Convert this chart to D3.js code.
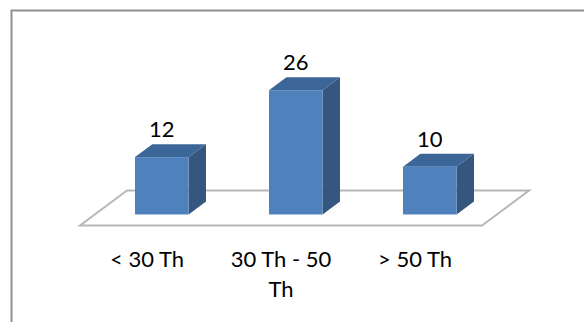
<!DOCTYPE html>
<html>
<head>
<meta charset="utf-8">
<script src="https://cdn.jsdelivr.net/npm/d3@7"></script>
<style>
  html, body { margin: 0; padding: 0; background: #fff; }
  svg { display: block; }
  text { font-family: Lato, "Open Sans", sans-serif; fill: #000; }
</style>
</head>
<body>
<svg id="chart" width="584" height="322"></svg>
<script>
// Chart data
const categories = ["< 30 Th", "30 Th - 50 Th", "> 50 Th"];
const values = [12, 26, 10];
const yMax = 30;

const svg = d3.select("#chart");

// Outer chart frame (runs off the right and bottom edges)
svg.append("rect")
  .attr("x", 11.5).attr("y", 10.5)
  .attr("width", 620).attr("height", 360)
  .attr("fill", "none")
  .attr("stroke", "#8f8f8f")
  .attr("stroke-width", 2);

// Floor: front edge along the category axis, receding by (depthX, depthY)
const floorY = 225.5;
const depthX = 47, depthY = -35;
const barDepth0 = 0.315, barDepth1 = 0.685;

const x = d3.scaleBand().domain(categories).range([80, 482]).padding(0);
const y = d3.scaleLinear().domain([0, yMax]).range([0, 143.4]);

const g = svg.append("g");

// floor parallelogram
const fx0 = x.range()[0], fx1 = x.range()[1];
g.append("path")
  .attr("d", d3.line()([
    [fx0, floorY], [fx1, floorY],
    [fx1 + depthX, floorY + depthY], [fx0 + depthX, floorY + depthY]
  ]) + "Z")
  .attr("fill", "none")
  .attr("stroke", "#b8b8b8")
  .attr("stroke-width", 2);

// bars as 3D boxes
const barW = x.bandwidth() * 0.4;
const offX = depthX * barDepth0, offY = depthY * barDepth0;
const bdx = depthX * (barDepth1 - barDepth0), bdy = depthY * (barDepth1 - barDepth0);
const baseY = floorY + offY;

const bars = g.selectAll(".bar").data(categories.map((c, i) => ({ c, v: values[i] })))
  .enter().append("g").attr("class", "bar");

bars.each(function (d) {
  const sel = d3.select(this);
  const cx = x(d.c) + x.bandwidth() / 2 + offX;
  const left = cx - barW / 2, right = cx + barW / 2;
  const top = baseY - y(d.v);
  // side face
  sel.append("path")
    .attr("d", d3.line()([[right, top], [right + bdx, top + bdy], [right + bdx, baseY + bdy], [right, baseY]]) + "Z")
    .attr("fill", "#34567f");
  // top face
  sel.append("path")
    .attr("d", d3.line()([[left, top], [left + bdx, top + bdy], [right + bdx, top + bdy], [right, top]]) + "Z")
    .attr("fill", "#3d6698");
  // front face
  sel.append("rect")
    .attr("x", left).attr("y", top)
    .attr("width", barW).attr("height", y(d.v))
    .attr("fill", "#4f81bd");
  // value label
  sel.append("text")
    .attr("x", cx).attr("y", top + bdy - 7)
    .attr("text-anchor", "middle")
    .attr("font-size", 22)
    .text(d.v);
});

// category labels, wrapped to the slot width
const labelY = 267, lineH = 29.5, maxW = 120;
categories.forEach(c => {
  const t = g.append("text")
    .attr("x", x(c) + x.bandwidth() / 2)
    .attr("y", labelY)
    .attr("text-anchor", "middle")
    .attr("font-size", 22);
  const words = c.split(" ");
  let line = [];
  let tspan = t.append("tspan").attr("x", x(c) + x.bandwidth() / 2).attr("dy", 0);
  let lineNo = 0;
  words.forEach(w => {
    line.push(w);
    tspan.text(line.join(" "));
    if (tspan.node().getComputedTextLength() > maxW && line.length > 1) {
      line.pop();
      tspan.text(line.join(" "));
      line = [w];
      lineNo++;
      tspan = t.append("tspan")
        .attr("x", x(c) + x.bandwidth() / 2)
        .attr("dy", lineH)
        .text(w);
    }
  });
});
</script>
</body>
</html>
